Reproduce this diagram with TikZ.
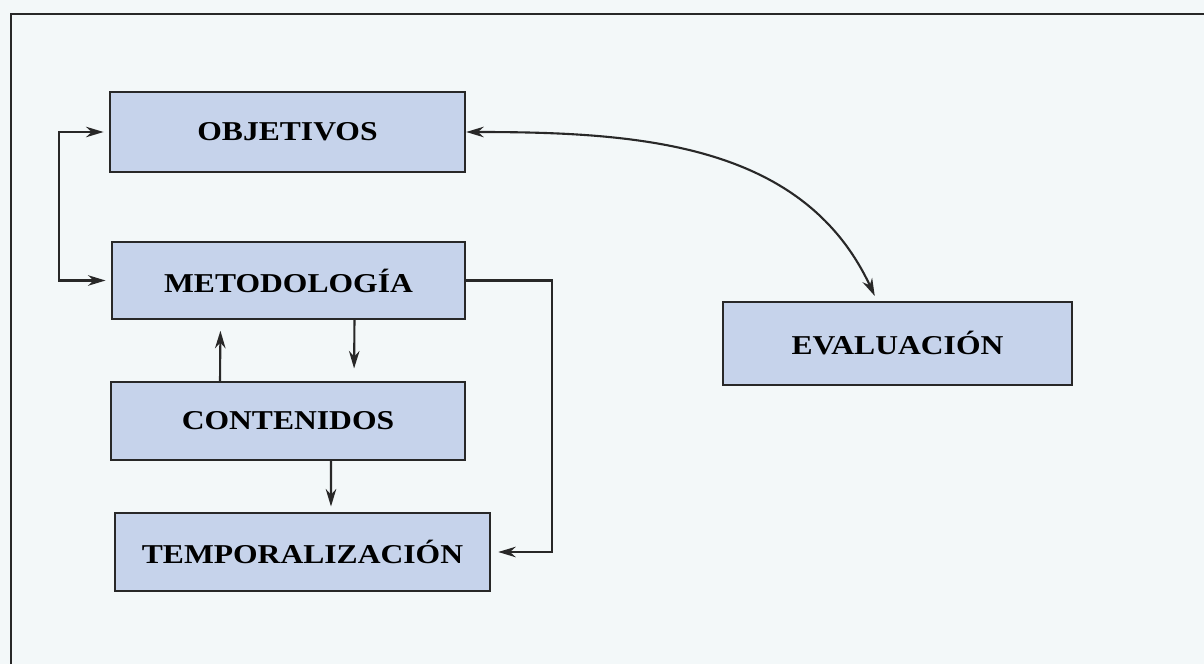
\documentclass[tikz,border=0pt]{standalone}
\usepackage{fontspec}
\setmainfont{Liberation Serif}[FakeStretch=1.16]
\usetikzlibrary{arrows.meta}
\definecolor{paper}{RGB}{243,248,249}
\definecolor{boxblue}{RGB}{198,211,235}
\definecolor{ink}{RGB}{40,40,40}
\begin{document}
\begin{tikzpicture}[x=0.02cm, y=0.02cm,
    block/.style={draw=ink, line width=1.4pt, fill=boxblue, inner sep=0pt,
                  font=\fontsize{15.5}{18}\selectfont\bfseries},
    tip/.style={-{Stealth[length=10pt, width=6pt]}},
    arr/.style={draw=ink, line width=1.2pt, tip}]
    % Background and frame
    \fill[paper] (0,0) rectangle (1204,664);
    \useasboundingbox (0,0) rectangle (1204,664);
    \draw[ink, line width=1.5pt] (11,0) -- (11,650) -- (1204,650);

    % Draw blocks on the left
    \node[block, minimum width=7.1cm, minimum height=1.6cm] (obj) at (287.5,532) {OBJETIVOS};
    \node[block, minimum width=7.06cm, minimum height=1.54cm] (met) at (288.5,383.5) {METODOLOGÍA};
    \node[block, minimum width=7.08cm, minimum height=1.56cm] (con) at (288,243) {CONTENIDOS};
    \node[block, minimum width=7.5cm, minimum height=1.56cm] (tem) at (302.5,112) {TEMPORALIZACIÓN};

    % Draw evaluation block
    \node[block, minimum width=6.98cm, minimum height=1.66cm] (eva) at (897.5,320.5) {EVALUACIÓN};

    % Draw connectors
    \draw[arr, {Stealth[length=10pt, width=6pt]}-{Stealth[length=10pt, width=6pt]}, shorten <=3pt, shorten >=3pt]
        (obj.west) -- ++(-50,0) |- (met.west);
    \draw[arr, shorten >=4pt] (met.east) -- ++(86,0) |- (tem.east);
    \draw[arr, shorten >=6pt] ([xshift=-1.36cm]con.north) -- ([xshift=-1.36cm]met.south);
    \draw[arr, shorten >=7pt] ([xshift=1.32cm]met.south) -- ([xshift=1.32cm]con.north);
    \draw[arr, shorten >=3pt] ([xshift=0.86cm]con.south) -- ([xshift=0.57cm]tem.north);

    % Draw curved link to evaluation
    \draw[arr, {Stealth[length=10pt, width=6pt]}-{Stealth[length=10pt, width=6pt]}, shorten >=3pt]
        (obj.east) to[out=0, in=115] ([xshift=-0.41cm]eva.north);
\end{tikzpicture}
\end{document}
